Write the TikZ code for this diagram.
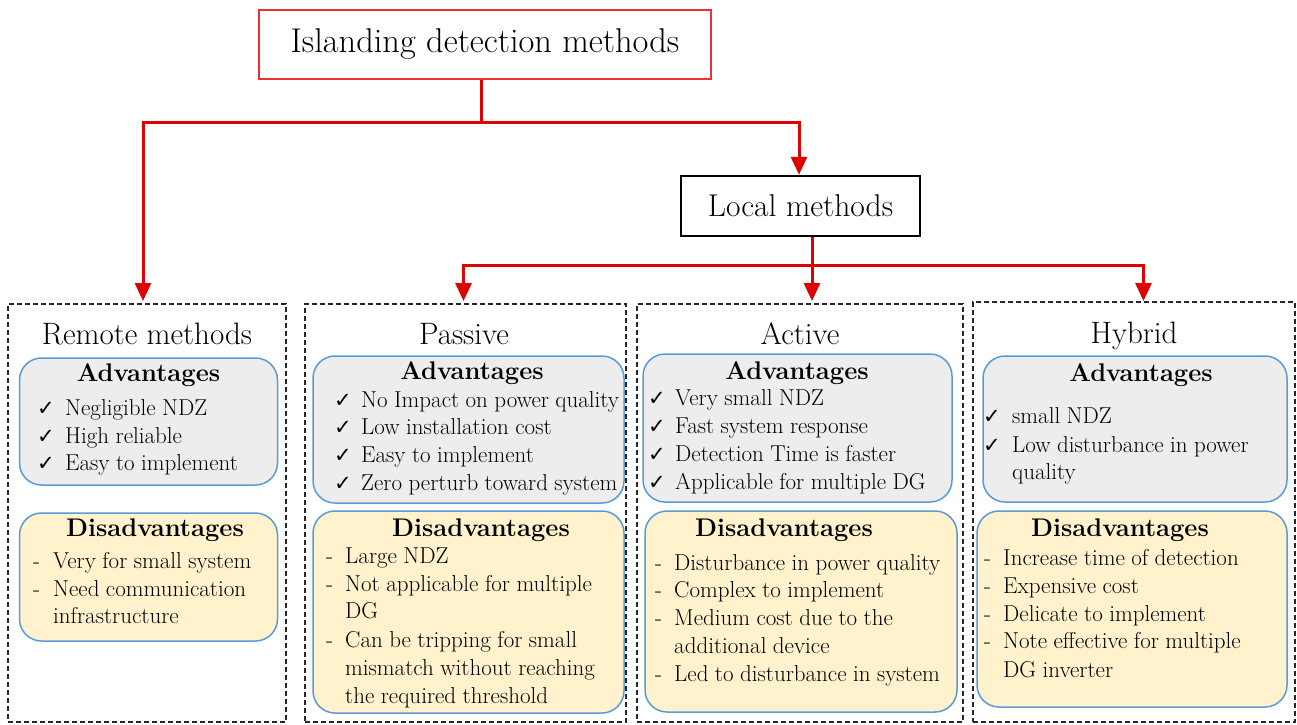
\documentclass[tikz,border=0pt]{standalone}
\usepackage{fontspec}
\newcommand{\tnr}{\rmfamily\addfontfeatures{FakeBold=0.3}}
\newfontfamily\symfont{DejaVu Sans}
\usetikzlibrary{arrows.meta}
\definecolor{redline}{HTML}{E00000}
\definecolor{topred}{HTML}{F03030}
\definecolor{advfill}{HTML}{EDEDED}
\definecolor{disfill}{HTML}{FFF2CC}
\definecolor{rbord}{HTML}{5B9BD5}
\newcommand{\ck}{{\symfont\fontsize{21}{21}\selectfont ✓}}
\newcommand{\itemfont}{\tnr\fontsize{23}{23}\selectfont\spaceskip=0.28em plus 0.1em\relax}
\tikzset{
  conn/.style={draw=redline, line width=3pt},
  carrow/.style={conn, -{Triangle[length=18pt,width=16pt]}},
  topbox/.style={draw=topred, line width=1.5pt, fill=white, inner sep=0pt, font=\tnr\fontsize{34.4}{34.4}\selectfont},
  localbox/.style={draw=black, line width=2.5pt, fill=white, inner sep=0pt, font=\tnr\fontsize{31.5}{31.5}\selectfont},
  groupbox/.style={draw=black!85, line width=1.3pt, dash pattern=on 5pt off 3pt, inner sep=0pt},
  advbox/.style={draw=rbord, line width=1.5pt, fill=advfill, rounded corners=22pt, inner sep=0pt},
  disbox/.style={draw=rbord, line width=1.5pt, fill=disfill, rounded corners=22pt, inner sep=0pt},
  grouptitle/.style={anchor=base, inner sep=0pt, font=\tnr\fontsize{31}{31}\selectfont},
  heading/.style={anchor=base, inner sep=0pt, font=\rmfamily\fontsize{25.5}{25.5}\selectfont\bfseries},
  item/.style={anchor=base west, inner sep=0pt, font=\itemfont},
}
\begin{document}
\begin{tikzpicture}[x=1pt,y=-1pt]
\useasboundingbox[fill=white] (0,0) rectangle (1297,724);

% group boxes
\node[groupbox, minimum width=278, minimum height=418] (remote) at (147,513) {};
\node[groupbox, minimum width=321, minimum height=418] (passive) at (465.5,513) {};
\node[groupbox, minimum width=326, minimum height=418] (active) at (800,513) {};
\node[groupbox, minimum width=322, minimum height=420] (hybrid) at (1134,512) {};

% top nodes
\node[topbox, minimum width=452, minimum height=69] (top) at (485,44.5) {Islanding detection methods};
\node[localbox, minimum width=239, minimum height=60] (local) at (800.5,206) {Local methods};

% connectors
\coordinate (j1) at (481,122);
\coordinate (j2) at (812,265);
\draw[conn] (top.south -| j1) -- (j1);
\draw[carrow] (j1) -| (143,301);
\draw[carrow] (j1) -| (local.north -| 799,0);
\draw[conn] (local.south -| j2) -- (j2);
\draw[carrow] (j2) -- (j2 |- 0,301);
\draw[carrow] (j2) -| (463.5,301);
\draw[carrow] (j2) -| (1143.5,301);

% ---------- Remote ----------
\node[grouptitle] (remoteT) at (147,344) {Remote methods};
\node[advbox, minimum width=258, minimum height=127] (remoteA) at (148.5,421.5) {};
\node[heading] (remoteAH) at (148.5,381) {Advantages};
\node[item] (ra1c) at (37,415) {\ck}; \node[item] (ra1) at (65,415) {Negligible NDZ};
\node[item] (ra2c) at (37,443) {\ck}; \node[item] (ra2) at (65,443) {High reliable};
\node[item] (ra3c) at (37,470) {\ck}; \node[item] (ra3) at (65,470) {Easy to implement};
\node[disbox, minimum width=258, minimum height=128] (remoteD) at (148.5,577) {};
\node[heading] (remoteDH) at (155,536) {Disadvantages};
\node[item] (rd1d) at (33,568) {-}; \node[item] (rd1) at (53,568) {Very for small system};
\node[item] (rd2d) at (33,596) {-}; \node[item] (rd2) at (53,596) {Need communication};
\node[item] (rd3) at (53,623) {infrastructure};

% ---------- Passive ----------
\node[grouptitle] (passiveT) at (464,344) {Passive};
\node[advbox, minimum width=311, minimum height=147] (passiveA) at (468.5,429.5) {};
\node[heading] (passiveAH) at (472,379) {Advantages};
\node[item] (pa1c) at (334,407) {\ck}; \node[item] (pa1) at (361,407) {No Impact on power quality};
\node[item] (pa2c) at (334,434) {\ck}; \node[item] (pa2) at (361,434) {Low installation cost};
\node[item] (pa3c) at (334,462) {\ck}; \node[item] (pa3) at (361,462) {Easy to implement};
\node[item] (pa4c) at (334,490) {\ck}; \node[item] (pa4) at (361,490) {Zero perturb toward system};
\node[disbox, minimum width=311, minimum height=202] (passiveD) at (468.5,612) {};
\node[heading] (passiveDH) at (481,536) {Disadvantages};
\node[item] (pd1d) at (326,563) {-}; \node[item] (pd1) at (345,563) {Large NDZ};
\node[item] (pd2d) at (326,591) {-}; \node[item] (pd2) at (345,591) {Not applicable for multiple};
\node[item] (pd3) at (345,618) {DG};
\node[item] (pd4d) at (326,647) {-}; \node[item] (pd4) at (345,647) {Can be tripping for small};
\node[item] (pd5) at (345,675) {mismatch without reaching};
\node[item] (pd6) at (345,703) {the required threshold};

% ---------- Active ----------
\node[grouptitle] (activeT) at (800,344) {Active};
\node[advbox, minimum width=309, minimum height=148] (activeA) at (797.5,428) {};
\node[heading] (activeAH) at (797,379) {Advantages};
\node[item] (aa1c) at (648,405) {\ck}; \node[item] (aa1) at (675,405) {Very small NDZ};
\node[item] (aa2c) at (648,433) {\ck}; \node[item] (aa2) at (675,433) {Fast system response};
\node[item] (aa3c) at (648,461) {\ck}; \node[item] (aa3) at (675,461) {Detection Time is faster};
\node[item] (aa4c) at (648,489) {\ck}; \node[item] (aa4) at (675,489) {Applicable for multiple DG};
\node[disbox, minimum width=312, minimum height=201] (activeD) at (801,611.5) {};
\node[heading] (activeDH) at (784,536) {Disadvantages};
\node[item] (ad1d) at (655,570) {-}; \node[item] (ad1) at (674,570) {Disturbance in power quality};
\node[item] (ad2d) at (655,597) {-}; \node[item] (ad2) at (674,597) {Complex to implement};
\node[item] (ad3d) at (655,625) {-}; \node[item] (ad3) at (674,625) {Medium cost due to the};
\node[item] (ad4) at (674,653) {additional device};
\node[item] (ad5d) at (655,681) {-}; \node[item] (ad5) at (674,681) {Led to disturbance in system};

% ---------- Hybrid ----------
\node[grouptitle] (hybridT) at (1134,343) {Hybrid};
\node[advbox, minimum width=304, minimum height=146] (hybridA) at (1135,429) {};
\node[heading] (hybridAH) at (1141,381) {Advantages};
\node[item] (ha1c) at (983,423) {\ck}; \node[item] (ha1) at (1012,423) {small NDZ};
\node[item] (ha2c) at (983,452) {\ck}; \node[item] (ha2) at (1012,452) {Low disturbance in power};
\node[item] (ha3) at (1012,479) {quality};
\node[disbox, minimum width=310, minimum height=196] (hybridD) at (1132,609) {};
\node[heading] (hybridDH) at (1120,536) {Disadvantages};
\node[item] (hd1d) at (984,565) {-}; \node[item] (hd1) at (1003,565) {Increase time of detection};
\node[item] (hd2d) at (984,593) {-}; \node[item] (hd2) at (1003,593) {Expensive cost};
\node[item] (hd3d) at (984,621) {-}; \node[item] (hd3) at (1003,621) {Delicate to implement};
\node[item] (hd4d) at (984,648) {-}; \node[item] (hd4) at (1003,648) {Note effective for multiple};
\node[item] (hd5) at (1003,677) {DG inverter};
\end{tikzpicture}
\end{document}
